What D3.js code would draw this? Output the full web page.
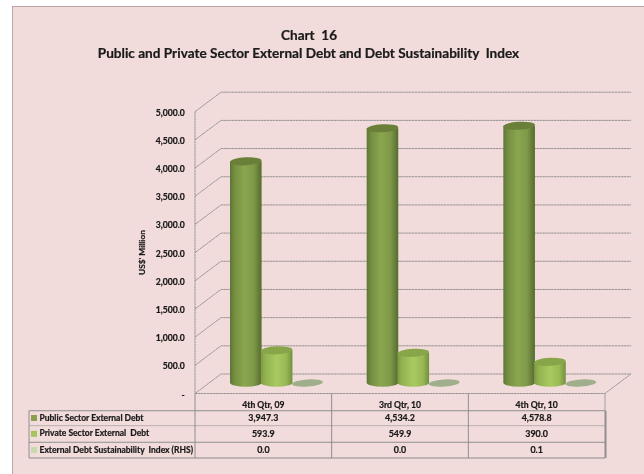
<!DOCTYPE html>
<html><head><meta charset="utf-8">
<script src="https://cdnjs.cloudflare.com/ajax/libs/d3/7.8.5/d3.min.js"></script>
<style>html,body{margin:0;padding:0;background:#fff}svg{display:block}text{font-family:Lato,"Open Sans",sans-serif;font-weight:700;fill:#1a1a1a;stroke:#1a1a1a;stroke-width:.22px;white-space:pre}</style>
</head><body><svg id="c" width="644" height="474"></svg>
<script>
const categories = ["4th Qtr, 09", "3rd Qtr, 10", "4th Qtr, 10"];
const seriesNames = ["Public Sector External Debt", "Private Sector External  Debt", "External Debt Sustainability  Index (RHS)"];
const publicDebt = [3947.3, 4534.2, 4578.8];
const privateDebt = [593.9, 549.9, 390.0];
const sustainIndex = [0.0, 0.0, 0.1];
const tableLabels = [["3,947.3","4,534.2","4,578.8"],["593.9","549.9","390.0"],["0.0","0.0","0.1"]];
const yTicks = [0,500,1000,1500,2000,2500,3000,3500,4000,4500,5000];
const swatches = ["#8aa04f", "#a4c45c", "#c9d9ae"];

const svg = d3.select("#c");
const defs = svg.append("defs");
function cyl(id, stops){
  const g = defs.append("linearGradient").attr("id", id);
  stops.forEach(([o,c]) => g.append("stop").attr("offset", o).attr("stop-color", c));
}
cyl("g0", [[0,"#5f7534"],[.15,"#758f42"],[.45,"#8ba64f"],[.75,"#7f9949"],[1,"#566b2f"]]);
cyl("g1", [[0,"#7e9a45"],[.15,"#93b252"],[.5,"#a8ca60"],[.8,"#98b955"],[1,"#73903f"]]);
const blur = defs.append("filter").attr("id","soft").attr("x","-5%").attr("y","-5%").attr("width","110%").attr("height","110%");
blur.append("feGaussianBlur").attr("stdDeviation",0.3);

svg.append("rect").attr("x",12.5).attr("y",6.5).attr("width",640).attr("height",480)
  .attr("fill","#f2dcdb").attr("stroke","#bda6a5").attr("stroke-width",1);

const root = svg.append("g").attr("filter","url(#soft)");

const left = 195, right = 605, dx = 26, dy = 19.5;
const x = d3.scaleBand().domain(categories).range([left, right]);
const y = d3.scaleLinear().domain([0, 5000]).range([393.5, 111.7]);
const sub = d3.scaleBand().domain(d3.range(3)).range([0, 92.5]);
const gridCol = "#8c8c8c";

// walls
const grid = root.append("g").attr("fill","none").attr("stroke",gridCol).attr("stroke-width",0.9).attr("stroke-dasharray","2.5 0.4");
yTicks.forEach(t => {
  grid.append("path").attr("d", d3.line()([[left,y(t)],[left+dx,y(t)-dy],[right+dx,y(t)-dy]]));
});
grid.append("line").attr("x1",left).attr("x2",left).attr("y1",y(5000)).attr("y2",y(0));
grid.append("path").attr("d", d3.line()([[left,y(0)],[right,y(0)],[right+dx,y(0)-dy]]));

// y labels
root.append("g").selectAll("text").data(yTicks).join("text")
  .attr("x",left-10.3).attr("y",t=>y(t)+4).attr("text-anchor","end").attr("font-size",8.6)
  .text(t => t===0 ? "-" : d3.format(",.1f")(t));
root.append("text").attr("transform","translate(145.2,252.5) rotate(-90)").attr("text-anchor","middle")
  .attr("font-size",8.3).text("US$' Million");

// bars
const rx = 15.8, ry = 4, topShift = 9.7, bottomY = 382.7;
categories.forEach((cat, i) => {
  const gx = x(cat) + x.bandwidth()/2 + 13.3 - 46.25;
  const g = root.append("g").attr("transform",`translate(${gx},0)`);
  [publicDebt, privateDebt].forEach((arr, s) => {
    const cx = sub(s) + sub.bandwidth()/2, top = y(arr[i]) - topShift;
    g.append("path").attr("fill",`url(#g${s})`)
      .attr("d",`M${cx-rx},${top}L${cx-rx},${bottomY}A${rx},${ry} 0 0 0 ${cx+rx},${bottomY}L${cx+rx},${top}Z`);
    g.append("ellipse").attr("cx",cx).attr("cy",top).attr("rx",rx).attr("ry",ry)
      .attr("transform",`rotate(-3 ${cx} ${top})`)
      .attr("fill", s===0 ? "#6a7f39" : "#89a548");
  });
  const cx = sub(2) + sub.bandwidth()/2, top = y(sustainIndex[i]) - topShift;
  g.append("ellipse").attr("cx",cx).attr("cy",top-0.8).attr("rx",15.5).attr("ry",3.6)
    .attr("transform",`rotate(-4 ${cx} ${top})`).attr("fill","#9fae8b");
});

// data table
const rows = [410.7, 425.7, 442.3, 458];
const tbl = root.append("g").attr("stroke","#8e8e8e").attr("fill","none");
rows.forEach((r,k) => tbl.append("line").attr("x1",29).attr("x2",right).attr("y1",r).attr("y2",r)
  .attr("stroke-width",k===1?0.8:1.1).attr("stroke",k===1?"#a9a2a2":"#8e8e8e"));
tbl.append("line").attr("x1",29).attr("x2",29).attr("y1",rows[0]).attr("y2",rows[3]);
[left, left+x.bandwidth(), left+2*x.bandwidth()].forEach(v =>
  tbl.append("line").attr("x1",v).attr("x2",v).attr("y1",y(0)).attr("y2",rows[3]));
tbl.append("line").attr("x1",right).attr("x2",right).attr("y1",y(0)).attr("y2",rows[0]).attr("stroke-width",.8);
tbl.append("line").attr("x1",right+0.5).attr("x2",right+0.5).attr("y1",rows[0]).attr("y2",rows[3]).attr("stroke-width",2);

categories.forEach(c => root.append("text").attr("x",x(c)+x.bandwidth()/2).attr("y",408)
  .attr("text-anchor","middle").attr("font-size",8.6).text(c));
seriesNames.forEach((n,k) => {
  const my = (rows[k]+rows[k+1])/2;
  root.append("rect").attr("x",31).attr("y",my-3.2).attr("width",6).attr("height",6).attr("fill",swatches[k]).attr("stroke","none");
  root.append("text").attr("x",39.5).attr("y",my+2.4).attr("font-size",8.5).text(n);
  categories.forEach((c,j) => root.append("text").attr("x",x(c)+x.bandwidth()/2).attr("y",my+3.2)
    .attr("text-anchor","middle").attr("font-size",8.9).text(tableLabels[k][j]));
});

// titles
root.append("text").attr("x",309).attr("y",40).attr("text-anchor","middle").attr("font-size",13.6).text("Chart  16");
root.append("text").attr("x",308.5).attr("y",58.3).attr("text-anchor","middle").attr("font-size",13.6).text("Public and Private Sector External Debt and Debt Sustainability  Index");
</script></body></html>
